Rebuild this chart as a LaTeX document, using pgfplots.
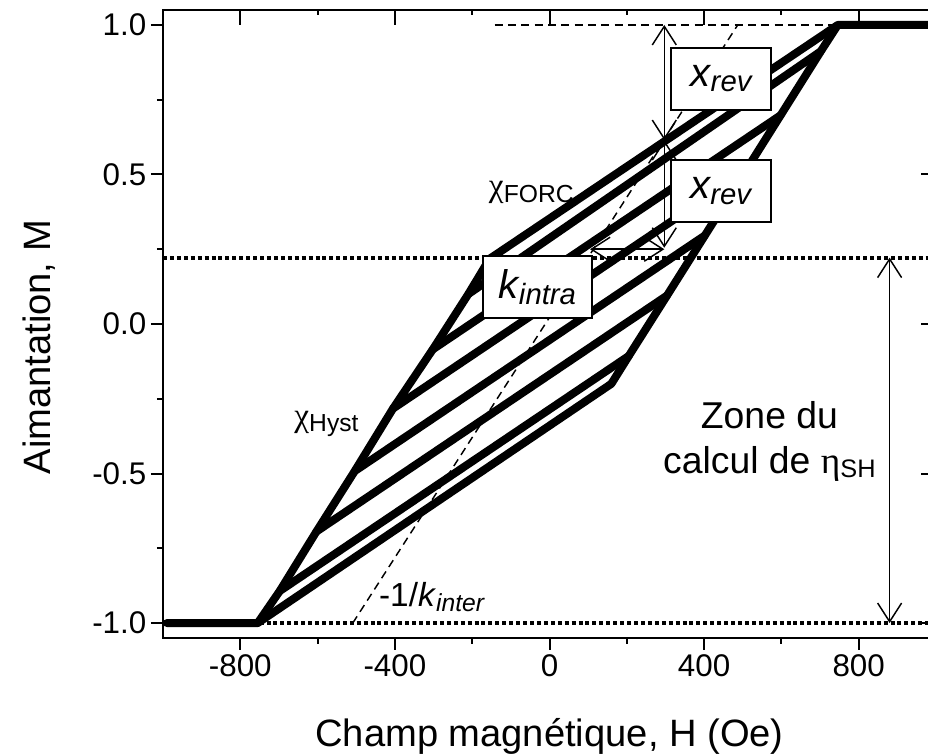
\documentclass[border=0pt]{standalone}
\usepackage{fontspec}
\setmainfont{Liberation Sans}
\newfontfamily\grk{Liberation Serif}
\usepackage{pgfplots}
\pgfplotsset{compat=1.18}
\usetikzlibrary{arrows.meta}
\tikzset{
  arr/.style={line width=1.1pt, black, {Straight Barb[length=14pt,width=18pt]}-{Straight Barb[length=14pt,width=18pt]}},
  box/.style={draw=black, fill=white, line width=1.3pt, minimum height=46.5pt, inner sep=0pt},
}
\begin{document}
\begin{tikzpicture}
\pgfplotsset{
  frame/.style={
    at={(0,0)}, anchor=south west,
    scale only axis, width=579.75pt, height=471pt,
    xmin=-1000, xmax=1000, ymin=-1.05, ymax=1.05,
    xtick={-800,-400,0,400,800},
    minor xtick={-600,-200,200,600},
    ytick={-1,-0.5,0,0.5,1},
    minor ytick={-0.75,-0.25,0.25,0.75},
    axis line style={line width=1.5pt},
    every tick/.append style={line width=1.5pt, black},
    every minor tick/.append style={line width=1.5pt, black},
  },
  curve/.style={line width=6pt, black, line cap=round, line join=round, no marks},
  dots/.style={line width=3pt, black, dash pattern=on 3pt off 2.2pt, no marks},
  dsh/.style={line width=1.1pt, black, dash pattern=on 6pt off 4pt, no marks},
}
\begin{axis}[frame,
  xtick pos=bottom, ytick pos=left, tick align=outside,
  major tick length=9pt, minor tick length=4.5pt,
  xticklabels={-800,-400,0,400,800},
  yticklabels={-1.0,-0.5,0.0,0.5,1.0},
  ticklabel style={font=\fontsize{23.5}{28}\selectfont},
  xlabel={Champ magnétique, H (Oe)},
  ylabel={Aimantation, M},
  label style={font=\fontsize{28.6}{34}\selectfont},
  xlabel style={at={(axis description cs:0.5,-0.172)}, anchor=base},
  ylabel style={at={(axis description cs:-0.146,0.463)}, anchor=base},
]
% reference lines
\addplot[dots] coordinates {(-1000,0.222) (1000,0.222)};
\addplot[dots] coordinates {(-750,-1) (1000,-1)};
\addplot[dsh] coordinates {(-142,1) (746,1)};
\addplot[dsh] coordinates {(-509,-1) (487,1)};
% major loop
\addplot[curve] coordinates {(-990,-1) (-755,-1) (160,-0.2)};
\addplot[curve] coordinates {(160,-0.2) (205,-0.107) (304,0.095) (402,0.296) (506,0.509) (598,0.698) (702,0.912) (746,1) (1000,1)};
\addplot[curve] coordinates {(746,1) (-155,0.218)};
\addplot[curve] coordinates {(-155,0.218) (-210,0.1) (-302,-0.085) (-405,-0.283) (-504,-0.492) (-603,-0.694) (-698,-0.893) (-755,-1)};
% FORCs
\addplot[curve] coordinates {(-698,-0.893) (205,-0.107)};
\addplot[curve] coordinates {(-603,-0.694) (304,0.095)};
\addplot[curve] coordinates {(-504,-0.492) (402,0.296)};
\addplot[curve] coordinates {(-405,-0.283) (506,0.509)};
\addplot[curve] coordinates {(-302,-0.085) (598,0.698)};
\addplot[curve] coordinates {(-210,0.1) (702,0.912)};
% arrows
\draw[arr] (axis cs:297,1) -- (axis cs:297,0.615);
\draw[arr] (axis cs:297,0.615) -- (axis cs:297,0.255);
\draw[arr] (axis cs:105,0.25) -- (axis cs:297,0.25);
\draw[arr] (axis cs:880,0.222) -- (axis cs:880,-1);
% boxes
\node[box, minimum width=75pt] at (axis cs:444,0.82) {{\fontsize{30}{30}\selectfont\itshape x}\raisebox{-4pt}{\fontsize{22}{22}\selectfont\itshape rev}};
\node[box, minimum width=75pt] at (axis cs:443,0.444) {{\fontsize{30}{30}\selectfont\itshape x}\raisebox{-4pt}{\fontsize{22}{22}\selectfont\itshape rev}};
\node[box, minimum width=82pt] at (axis cs:-31,0.123) {{\fontsize{30}{30}\selectfont\itshape k}\raisebox{-4pt}{\fontsize{22}{22}\selectfont\itshape intra}};
% labels
\node[anchor=base] at (axis cs:-47,0.425) {{\grk\fontsize{25}{25}\selectfont χ}\raisebox{-4pt}{\fontsize{18.5}{18.5}\selectfont FORC}};
\node[anchor=base] at (axis cs:-577,-0.343) {{\grk\fontsize{25}{25}\selectfont χ}\raisebox{-4pt}{\fontsize{18.5}{18.5}\selectfont Hyst}};
\node[anchor=base] at (axis cs:-305,-0.944) {{\fontsize{25}{25}\selectfont -1/\textit{k}}\raisebox{-4pt}{\fontsize{18.5}{18.5}\selectfont\itshape inter}};
\node[anchor=base] at (axis cs:569,-0.35) {\fontsize{28}{28}\selectfont Zone du};
\node[anchor=base] at (axis cs:569,-0.5) {\fontsize{28}{28}\selectfont calcul de {\grk η}\raisebox{-3pt}{\fontsize{19}{19}\selectfont SH}};
\end{axis}
\begin{axis}[frame, xtick pos=top, ytick pos=right, tick align=inside,
  major tick length=11.25pt, minor tick length=3.75pt,
  xticklabels={}, yticklabels={}]
\end{axis}
\pgfresetboundingbox
\path (-122.25pt,-87.75pt) rectangle (573.75pt,478.5pt);
\end{tikzpicture}
\end{document}
